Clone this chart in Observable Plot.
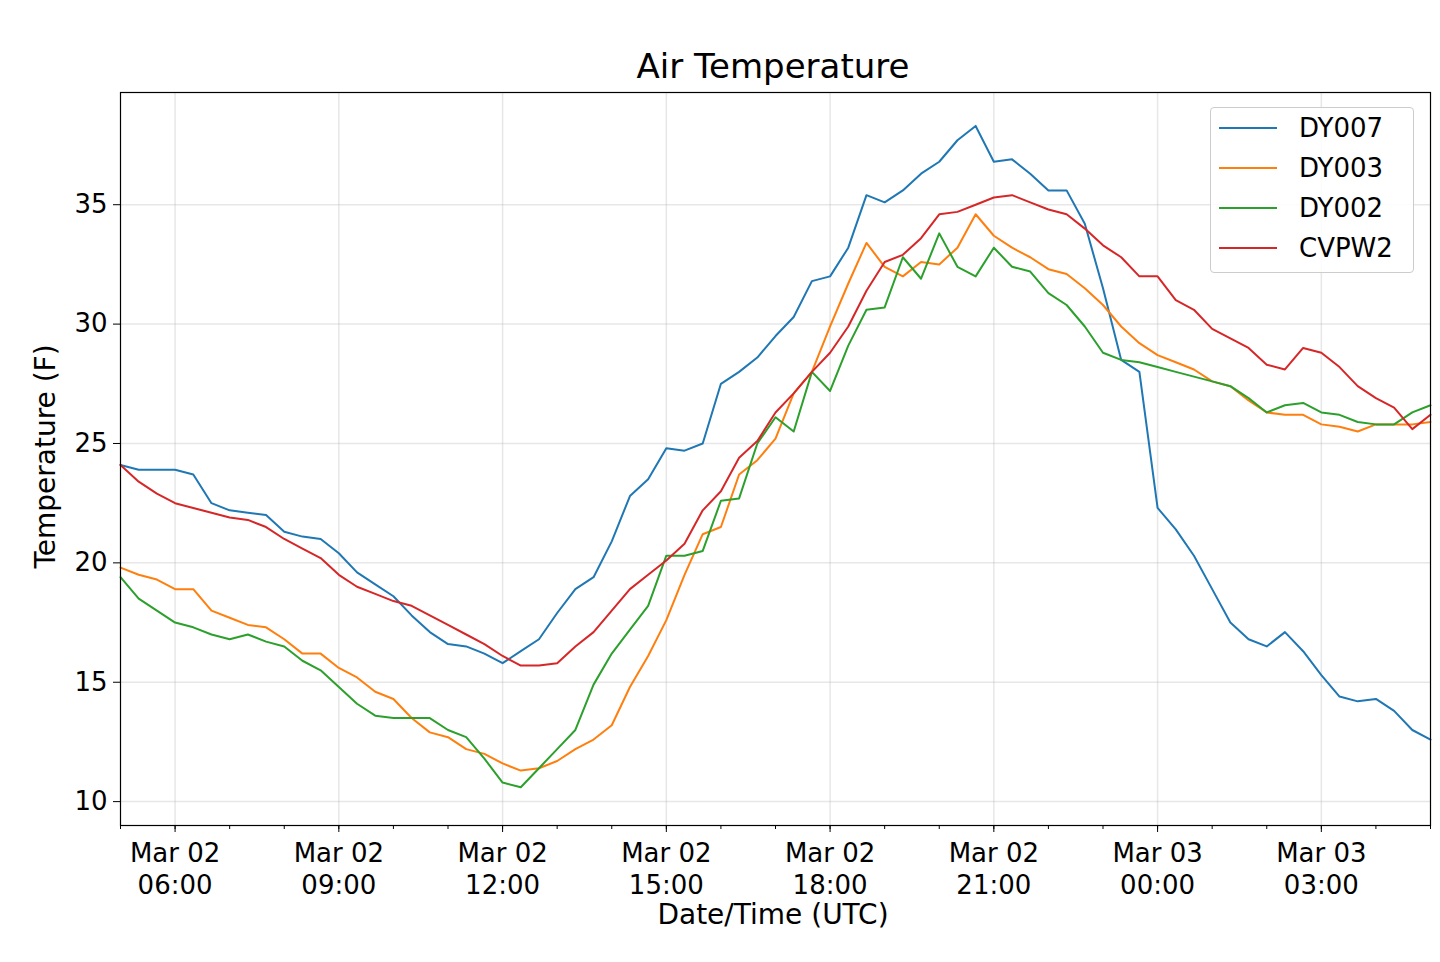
<!DOCTYPE html>
<html><head><meta charset="utf-8">
<script src="https://cdn.jsdelivr.net/npm/d3@7"></script>
<script src="https://cdn.jsdelivr.net/npm/@observablehq/plot@0.6"></script>
<style>
body{margin:0;background:#fff;font-family:"DejaVu Sans",sans-serif}
#wrap{position:relative;width:1440px;height:962px}
.t{position:absolute;color:#000}
</style></head><body>
<div id="wrap"></div>
<script>
// 20-minute samples from Mar 02 05:00 UTC to Mar 03 05:00 UTC
const startUTC = Date.UTC(2019, 2, 2, 5, 0);
const stepMin = 20;
const DY007 = [24.1,23.9,23.9,23.9,23.7,22.5,22.2,22.1,22.0,21.3,21.1,21.0,20.4,19.6,19.1,18.6,17.8,17.1,16.6,16.5,16.2,15.8,16.3,16.8,17.9,18.9,19.4,20.9,22.8,23.5,24.8,24.7,25.0,27.5,28.0,28.6,29.5,30.3,31.8,32.0,33.2,35.4,35.1,35.6,36.3,36.8,37.7,38.3,36.8,36.9,36.3,35.6,35.6,34.2,31.5,28.5,28.0,22.3,21.4,20.3,18.9,17.5,16.8,16.5,17.1,16.3,15.3,14.4,14.2,14.3,13.8,13.0,12.6];
const DY003 = [19.8,19.5,19.3,18.9,18.9,18.0,17.7,17.4,17.3,16.8,16.2,16.2,15.6,15.2,14.6,14.3,13.5,12.9,12.7,12.2,12.0,11.6,11.3,11.4,11.7,12.2,12.6,13.2,14.8,16.1,17.6,19.5,21.2,21.5,23.7,24.3,25.2,27.1,28.0,29.9,31.7,33.4,32.4,32.0,32.6,32.5,33.2,34.6,33.7,33.2,32.8,32.3,32.1,31.5,30.8,29.9,29.2,28.7,28.4,28.1,27.6,27.4,26.8,26.3,26.2,26.2,25.8,25.7,25.5,25.8,25.8,25.8,25.9];
const DY002 = [19.4,18.5,18.0,17.5,17.3,17.0,16.8,17.0,16.7,16.5,15.9,15.5,14.8,14.1,13.6,13.5,13.5,13.5,13.0,12.7,11.8,10.8,10.6,11.4,12.2,13.0,14.9,16.2,17.2,18.2,20.3,20.3,20.5,22.6,22.7,25.0,26.1,25.5,28.0,27.2,29.1,30.6,30.7,32.8,31.9,33.8,32.4,32.0,33.2,32.4,32.2,31.3,30.8,29.9,28.8,28.5,28.4,28.2,28.0,27.8,27.6,27.4,26.9,26.3,26.6,26.7,26.3,26.2,25.9,25.8,25.8,26.3,26.6];
const CVPW2 = [24.1,23.4,22.9,22.5,22.3,22.1,21.9,21.8,21.5,21.0,20.6,20.2,19.5,19.0,18.7,18.4,18.2,17.8,17.4,17.0,16.6,16.1,15.7,15.7,15.8,16.5,17.1,18.0,18.9,19.5,20.1,20.8,22.2,23.0,24.4,25.1,26.3,27.1,28.0,28.8,29.9,31.4,32.6,32.9,33.6,34.6,34.7,35.0,35.3,35.4,35.1,34.8,34.6,34.0,33.3,32.8,32.0,32.0,31.0,30.6,29.8,29.4,29.0,28.3,28.1,29.0,28.8,28.2,27.4,26.9,26.5,25.6,26.2];
const seriesNames = ["DY007","DY003","DY002","CVPW2"];
const seriesColors = ["#1f77b4","#ff7f0e","#2ca02c","#d62728"];
const seriesVals = [DY007, DY003, DY002, CVPW2];
const yTicks = [10,15,20,25,30,35];

const rows = [];
seriesVals.forEach((vals, s) => vals.forEach((v, i) => rows.push({
  t: new Date(startUTC + i*stepMin*60000), v, name: seriesNames[s]})));

const x0 = new Date(startUTC), x1 = new Date(startUTC + 24*3600000);
const majorTicks = d3.utcHour.every(3).range(new Date(startUTC+3600000), new Date(+x1+1));
const minorTicks = d3.utcHour.every(1).range(x0, new Date(+x1+1));
const fmt = d3.utcFormat("%b %d\n%H:%M");

const plot = Plot.plot({
  width: 1440, height: 962,
  marginLeft: 120, marginRight: 10, marginTop: 92, marginBottom: 137,
  style: {fontFamily: "DejaVu Sans, sans-serif", fontSize: "25px", color: "#000", background: "#fff"},
  x: {type: "utc", domain: [x0, x1], label: null},
  y: {domain: [9.0, 39.7], label: null},
  color: {domain: seriesNames, range: seriesColors},
  marks: [
    Plot.gridX(majorTicks, {stroke: "#b0b0b0", strokeOpacity: 0.3, strokeWidth: 1.5}),
    Plot.gridY(yTicks, {stroke: "#b0b0b0", strokeOpacity: 0.3, strokeWidth: 1.5}),
    Plot.tickX(minorTicks, {x: d => d, y1: 0, y2: 0, stroke: "none"}),
    Plot.axisX(minorTicks, {tickSize: 4, tickFormat: () => "", label: null}),
    Plot.axisX(majorTicks, {tickSize: 7, tickFormat: fmt, tickPadding: 6, fontSize: 26, lineHeight: 1.25, label: null}),
    Plot.axisY(yTicks, {tickSize: 7, tickPadding: 6, fontSize: 26, label: null}),
    Plot.line(rows, {x: "t", y: "v", z: "name", stroke: "name", strokeWidth: 2}),
    Plot.frame({stroke: "#000", strokeWidth: 1.2})
  ]
});
const wrap = document.getElementById("wrap");
wrap.appendChild(plot);

function addText(txt, css){const d=document.createElement("div");d.className="t";d.textContent=txt;Object.assign(d.style,css);wrap.appendChild(d);}
addText("Air Temperature",{left:"0",width:"1546px",textAlign:"center",top:"46px",fontSize:"34px"});
addText("Date/Time (UTC)",{left:"0",width:"1546px",textAlign:"center",top:"898px",fontSize:"28px"});
addText("Temperature (F)",{left:"-80px",top:"440px",width:"250px",textAlign:"center",fontSize:"28px",transform:"rotate(-90deg)"});

const leg=document.createElement("div");
Object.assign(leg.style,{position:"absolute",left:"1210px",top:"107px",width:"204px",height:"166px",border:"1px solid #ccc",borderRadius:"4px",background:"rgba(255,255,255,0.85)",boxSizing:"border-box"});
seriesNames.forEach((n,i)=>{
  const r=document.createElement("div");
  Object.assign(r.style,{position:"absolute",left:"8px",top:(2+i*40)+"px",height:"36px",display:"flex",alignItems:"center",fontSize:"26px"});
  r.innerHTML=`<span style="display:inline-block;width:58px;height:2px;background:${seriesColors[i]};margin-right:22px"></span>${n}`;
  leg.appendChild(r);
});
wrap.appendChild(leg);
</script></body></html>
